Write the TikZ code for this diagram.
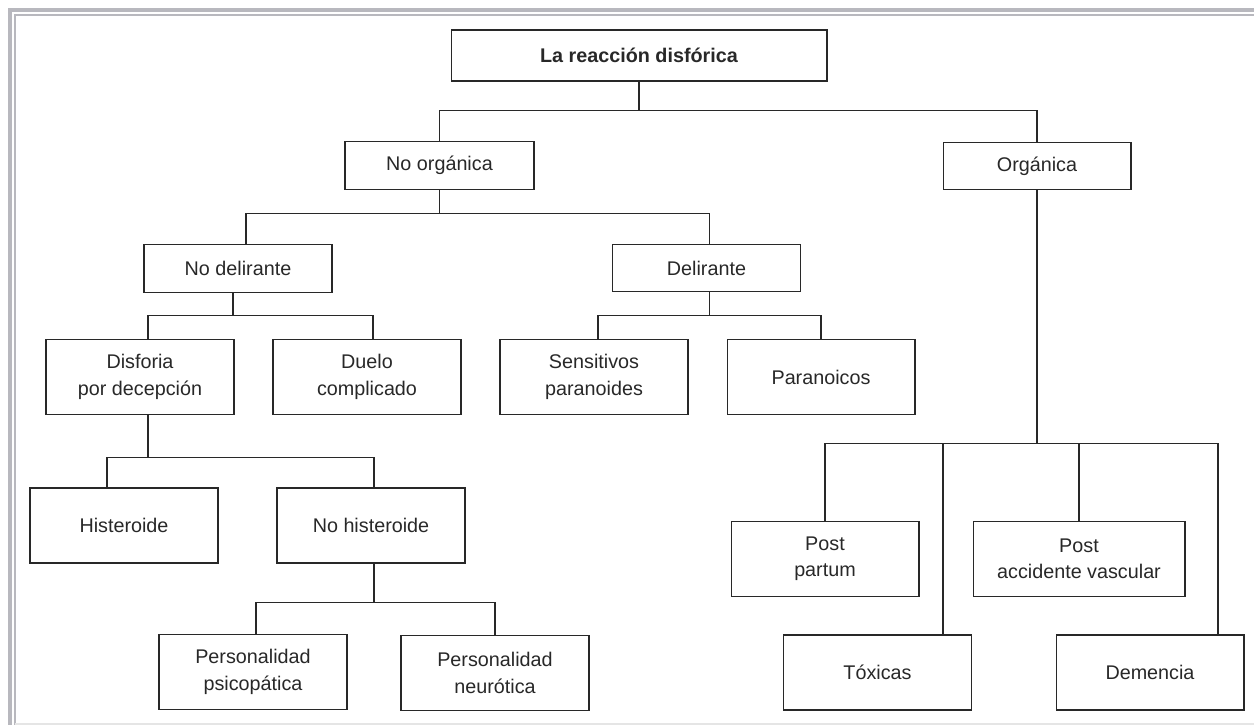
\documentclass[tikz,border=0pt]{standalone}
\usepackage{fontspec}
\setmainfont{Liberation Sans}
\usetikzlibrary{calc}
\definecolor{framegray}{RGB}{184,184,190}
\definecolor{inkgray}{RGB}{40,40,40}

\begin{document}
\begin{tikzpicture}[
  x=0.02cm, y=-0.02cm,
  font=\fontsize{11.25}{15}\selectfont,
  box/.style={draw=inkgray, line width=0.6pt, align=center, text=inkgray, minimum width=3.76cm, minimum height=1.5cm, inner sep=2pt},
  lowbox/.style={box, minimum height=0.95cm},
  link/.style={draw=inkgray, line width=0.6pt}
]
\useasboundingbox (0,0) rectangle (1254,725);
% marco
\draw[framegray, line width=2.3pt] (1254,10) -- (10,10) -- (10,725);
\draw[framegray, line width=0.6pt] (1254,15) -- (15,15) -- (15,725);
\draw[black!10, line width=0.6pt] (15,724) -- (1254,724);

\node[lowbox, font=\fontsize{11.25}{15}\selectfont\bfseries, minimum width=7.52cm, minimum height=1.02cm] (root) at (639,55.5) {La reacción disfórica};
\node[lowbox, minimum width=3.78cm] (noorg) at (439.5,165.5) {No orgánica};
\node[lowbox] (org) at (1037,166) {Orgánica};
\node[lowbox] (nodel) at (238,268.5) {No delirante};
\node[lowbox] (delir) at (706.5,268) {Delirante};
\node[box] (disf) at (140,377) {Disforia\\por decepción};
\node[box] (duelo) at (367,377) {Duelo\\complicado};
\node[box] (sens) at (594,377) {Sensitivos\\paranoides};
\node[box] (paran) at (821,377) {Paranoicos};
\node[box] (hist) at (124,525.5) {Histeroide};
\node[box] (nohist) at (371,525.5) {No histeroide};
\node[box] (psic) at (253,672) {Personalidad\\psicopática};
\node[box] (neur) at (495,673) {Personalidad\\neurótica};
\node[box] (postp) at (825,559) {Post\\partum};
\node[box, minimum width=4.24cm] (postacc) at (1079,559) {Post\\accidente vascular};
\node[box] (tox) at (877.5,672.5) {Tóxicas};
\node[box] (dem) at (1150,672.5) {Demencia};

\draw[link] (root.south) -- ++(0,29) -| (noorg.north);
\draw[link] (root.south) -- ++(0,29) -| (org.north);
\draw[link] (noorg.south) -- ++(0,24) -| ($(nodel.north)+(8,0)$);
\draw[link] (noorg.south) -- ++(0,24) -| ($(delir.north)+(3,0)$);
\draw[link] ($(nodel.south)+(-5,0)$) -- ++(0,23) -| ($(disf.north)+(8,0)$);
\draw[link] ($(nodel.south)+(-5,0)$) -- ++(0,23) -| ($(duelo.north)+(6,0)$);
\draw[link] ($(delir.south)+(3,0)$) -- ++(0,23) -| ($(sens.north)+(4,0)$);
\draw[link] ($(delir.south)+(3,0)$) -- ++(0,23) -| (paran.north);
\draw[link] ($(disf.south)+(8,0)$) -- ++(0,42) -| ($(hist.north)+(-17,0)$);
\draw[link] ($(disf.south)+(8,0)$) -- ++(0,42) -| ($(nohist.north)+(3,0)$);
\draw[link] ($(nohist.south)+(3,0)$) -- ++(0,39) -| ($(psic.north)+(3,0)$);
\draw[link] ($(nohist.south)+(3,0)$) -- ++(0,39) -| (neur.north);
\draw[link] (org.south) -- ++(0,253) -| (postp.north);
\draw[link] (org.south) -- ++(0,253) -| ($(tox.north)+(65.5,0)$);
\draw[link] (org.south) -- ++(0,253) -| (postacc.north);
\draw[link] (org.south) -- ++(0,253) -| ($(dem.north)+(68,0)$);
\end{tikzpicture}
\end{document}
